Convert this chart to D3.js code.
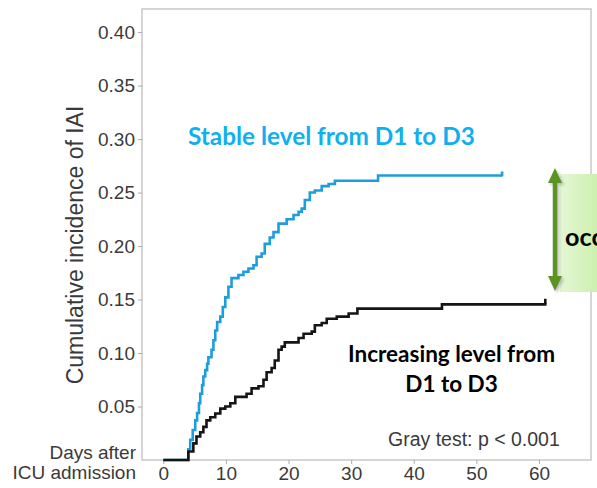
<!DOCTYPE html>
<html><head><meta charset="utf-8">
<script src="https://cdn.jsdelivr.net/npm/d3@7"></script>
<style>html,body{margin:0;padding:0;background:#fff;overflow:hidden}</style>
</head><body><svg id="c" width="597" height="488"></svg>
<script>
// ---- data ----
const yTicks = [0.05, 0.10, 0.15, 0.20, 0.25, 0.30, 0.35, 0.40];
const xTicks = [0, 10, 20, 30, 40, 50, 60];
// Stable level from D1 to D3 (blue): step times (days) and cumulative incidence
const stableDays = [0, 4.0, 4.3, 4.7, 5.1, 5.4, 5.7, 5.9, 6.2, 6.4, 6.7, 7.0, 7.2, 7.7, 8.0, 8.3, 8.6, 9.1, 9.5, 9.9, 10.4, 10.9, 12.0, 12.8, 13.6, 14.4, 14.9, 15.7, 16.2, 17.0, 17.6, 18.4, 19.7, 20.8, 21.6, 22.1, 22.6, 23.4, 24.2, 25.3, 26.4, 27.4, 34.3, 54.1];
const stableInc  = [0, 0.010, 0.019, 0.028, 0.037, 0.044, 0.053, 0.062, 0.070, 0.078, 0.084, 0.090, 0.096, 0.103, 0.112, 0.121, 0.129, 0.134, 0.143, 0.152, 0.162, 0.170, 0.173, 0.176, 0.179, 0.182, 0.190, 0.193, 0.202, 0.208, 0.213, 0.221, 0.225, 0.229, 0.232, 0.235, 0.243, 0.250, 0.252, 0.256, 0.258, 0.261, 0.266, 0.266];
// Increasing level from D1 to D3 (black)
const incrDays = [0, 4.0, 4.8, 5.3, 5.9, 6.4, 6.9, 7.5, 8.3, 9.1, 9.9, 10.7, 11.5, 13.3, 14.1, 15.2, 16.0, 16.5, 17.3, 17.8, 18.4, 18.9, 19.4, 21.6, 22.4, 23.7, 24.2, 25.3, 26.1, 27.7, 29.6, 31.0, 44.5, 61.0];
const incrInc  = [0, 0.008, 0.0155, 0.022, 0.026, 0.031, 0.037, 0.040, 0.0435, 0.048, 0.050, 0.053, 0.059, 0.062, 0.067, 0.069, 0.075, 0.082, 0.086, 0.093, 0.103, 0.106, 0.110, 0.114, 0.118, 0.120, 0.126, 0.128, 0.132, 0.134, 0.137, 0.1415, 0.1455, 0.147];

(function(){
const svg = d3.select('#c');
const pL = 142, pR = 591, pT = 9, pB = 460;
const x = d3.scaleLinear().domain([-3.4, 68.3]).range([pL, pR]);
const y = d3.scaleLinear().domain([0, 0.4216]).range([pB, pT]);
const axisFont = 'Liberation Sans, Arial, sans-serif';
const txtCol = '#3a3a3a';

// defs
const defs = svg.append('defs');
const g1 = defs.append('linearGradient').attr('id','gbox').attr('x1','0').attr('x2','1').attr('y1','0').attr('y2','0');
g1.append('stop').attr('offset','0').attr('stop-color','#e4f7d4');
g1.append('stop').attr('offset','1').attr('stop-color','#cbefac');
const f = defs.append('filter').attr('id','sh').attr('x','-50%').attr('y','-20%').attr('width','200%').attr('height','140%');
f.append('feDropShadow').attr('dx',2).attr('dy',2).attr('stdDeviation',1.6).attr('flood-color','#777').attr('flood-opacity',0.5);

// frame
svg.append('rect').attr('x',pL).attr('y',pT).attr('width',pR-pL).attr('height',pB-pT)
  .attr('fill','none').attr('stroke','#c8c8c8').attr('stroke-width',1.5);

// y axis
const ya = d3.axisLeft(y).tickValues(yTicks).tickFormat(d3.format('.2f')).tickSize(4).tickPadding(3);
const yg = svg.append('g').attr('transform',`translate(${pL},0)`).call(ya);
yg.select('.domain').remove();
yg.selectAll('line').attr('stroke','#aaa');
yg.selectAll('text').attr('font-family',axisFont).attr('font-size',19).attr('fill',txtCol);

// x axis
const xa = d3.axisBottom(x).tickValues(xTicks).tickSize(4).tickPadding(4);
const xg = svg.append('g').attr('transform',`translate(0,${pB})`).call(xa);
xg.select('.domain').remove();
xg.selectAll('line').attr('stroke','#aaa');
xg.selectAll('text').attr('font-family',axisFont).attr('font-size',19).attr('fill',txtCol).attr('dy','0.62em');

// axis side labels
svg.append('text').attr('x',136).attr('y',459).attr('text-anchor','end')
  .attr('font-family',axisFont).attr('font-size',19).attr('fill',txtCol).text('Days after');
svg.append('text').attr('x',136).attr('y',479).attr('text-anchor','end')
  .attr('font-family',axisFont).attr('font-size',19).attr('fill',txtCol).text('ICU admission');
svg.append('text').attr('transform','translate(83,245) rotate(-90)').attr('text-anchor','middle')
  .attr('font-family',axisFont).attr('font-size',23).attr('fill',txtCol).text('Cumulative incidence of IAI');

// curves
const line = d3.line().x(d=>x(d[0])).y(d=>y(d[1])).curve(d3.curveStepAfter);
const stable = stableDays.map((d,i)=>[d, stableInc[i]]);
const incr = incrDays.map((d,i)=>[d, incrInc[i]]);
svg.append('path').datum(stable).attr('d',line).attr('fill','none').attr('stroke','#1e9ddc').attr('stroke-width',2.6);
svg.append('path').datum(incr).attr('d',line).attr('fill','none').attr('stroke','#151515').attr('stroke-width',2.6);
[[stable,'#1e9ddc'],[incr,'#151515']].forEach(([s,c])=>{
  const l = s[s.length-1];
  svg.append('line').attr('x1',x(l[0])).attr('x2',x(l[0])).attr('y1',y(l[1])+1).attr('y2',y(l[1])-4)
    .attr('stroke',c).attr('stroke-width',2.6);
});

// p value
svg.append('text').attr('x',388).attr('y',446).attr('font-family',axisFont).attr('font-size',19.5)
  .attr('fill',txtCol).text('Gray test: p < 0.001');

// annotations (Calibri-like bold)
const annFont = 'Lato, Open Sans, sans-serif';
function fitText(sel, w){ const n = sel.node(); const cur = n.getComputedTextLength(); const fs = +sel.attr('font-size'); sel.attr('font-size', fs*w/cur); }
const t1 = svg.append('text').attr('x',188).attr('y',145).attr('font-family',annFont).attr('font-weight','bold')
  .attr('font-size',20).attr('fill','#0fb0ee').text('Stable level from D1 to D3');
fitText(t1, 287);
const t2 = svg.append('text').attr('x',451.5).attr('y',362).attr('text-anchor','middle').attr('font-family',annFont).attr('font-weight','bold')
  .attr('font-size',18).attr('fill','#000').text('Increasing level from');
fitText(t2, 207);
svg.append('text').attr('x',451.5).attr('y',392).attr('text-anchor','middle').attr('font-family',annFont).attr('font-weight','bold')
  .attr('font-size',t2.attr('font-size')).attr('fill','#000').text('D1 to D3');

// green box with arrow
svg.append('rect').attr('x',560).attr('y',174).attr('width',40).attr('height',118).attr('fill','url(#gbox)');
svg.append('text').attr('x',565).attr('y',246).attr('font-family',annFont).attr('font-weight','bold')
  .attr('font-size',(+t2.attr('font-size'))*1.12).attr('fill','#000').text('occ');
const ag = svg.append('g').attr('filter','url(#sh)');
const ac = '#5c9420';
ag.append('line').attr('x1',555).attr('x2',555).attr('y1',178).attr('y2',281).attr('stroke',ac).attr('stroke-width',4.5);
ag.append('path').attr('d','M555,168 L562,183 L548,183 Z').attr('fill',ac);
ag.append('path').attr('d','M555,291 L562,276 L548,276 Z').attr('fill',ac);
})();
</script></body></html>
